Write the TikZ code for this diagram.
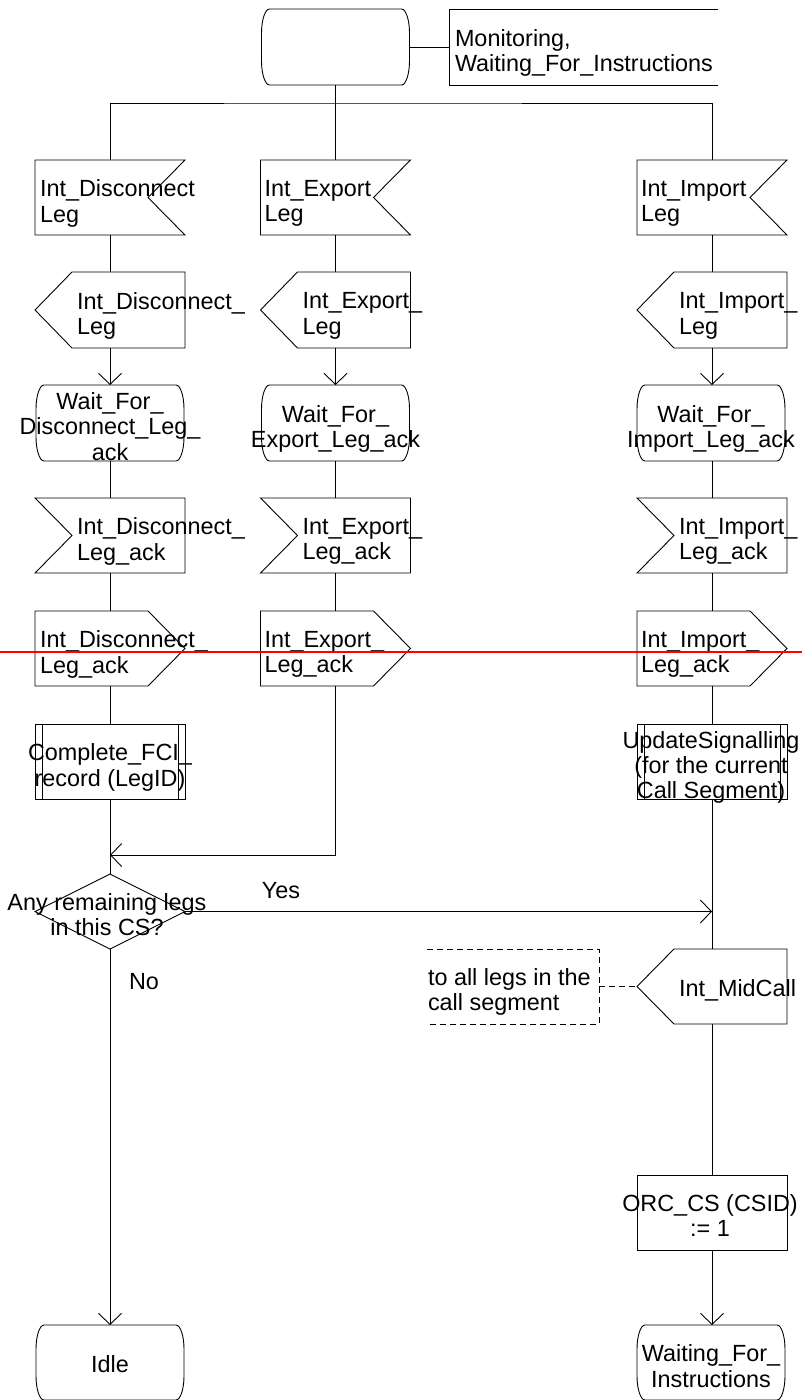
\documentclass[tikz,border=0pt]{standalone}
\usepackage{fontspec}
\setmainfont{Liberation Sans}
\usetikzlibrary{calc,arrows.meta}
\hyphenpenalty=10000
\exhyphenpenalty=10000

% SDL symbol outlines, drawn from the anchors of an invisible rectangle node
\newcommand\sdlInputR[1]{\draw[sdl] (#1.north west) -- (#1.north east) -- ($(#1.east)+(-37,0)$) -- (#1.south east) -- (#1.south west) -- cycle;}
\newcommand\sdlInputL[1]{\draw[sdl] (#1.north west) -- (#1.north east) -- (#1.south east) -- (#1.south west) -- ($(#1.west)+(37,0)$) -- cycle;}
\newcommand\sdlOutputL[1]{\draw[sdl] ($(#1.north west)+(37,0)$) -- (#1.north east) -- (#1.south east) -- ($(#1.south west)+(37,0)$) -- (#1.west) -- cycle;}
\newcommand\sdlOutputR[1]{\draw[sdl] (#1.north west) -- ($(#1.north east)+(-37,0)$) -- (#1.east) -- ($(#1.south east)+(-37,0)$) -- (#1.south west) -- cycle;}
\newcommand\sdlTask[1]{\draw[sdl] (#1.north west) rectangle (#1.south east);}
\newcommand\sdlProc[1]{\draw[sdl] (#1.north west) rectangle (#1.south east);
  \draw[sdl] ($(#1.north west)+(7,0)$) -- ($(#1.south west)+(7,0)$);
  \draw[sdl] ($(#1.north east)+(-7,0)$) -- ($(#1.south east)+(-7,0)$);}
\newcommand\sdlDecision[1]{\draw[sdl] (#1.north) -- (#1.east) -- (#1.south) -- (#1.west) -- cycle;}
\newcommand\sdlState[1]{\draw[sdl]
  ($(#1.north west)+(8,0)$) -- ($(#1.north east)+(-8,0)$)
  .. controls +(4.4,0) and +(0,-13) .. ($(#1.north east)+(0,24)$)
  -- ($(#1.south east)+(0,-24)$)
  .. controls +(0,13) and +(4.4,0) .. ($(#1.south east)+(-8,0)$)
  -- ($(#1.south west)+(8,0)$)
  .. controls +(-4.4,0) and +(0,13) .. ($(#1.south west)+(0,-24)$)
  -- ($(#1.north west)+(0,24)$)
  .. controls +(0,-13) and +(-4.4,0) .. ($(#1.north west)+(8,0)$) -- cycle;}

\begin{document}
\begin{tikzpicture}[x=1pt,y=-1pt,
  sdl/.style={draw=black,line width=0.9pt},
  sym/.style={draw=none,inner sep=0pt,outer sep=0pt,minimum width=150pt,minimum height=75pt},
  statebox/.style={sym,minimum width=148pt,minimum height=76pt},
  txt/.style={inner sep=0pt,outer sep=0pt,text depth=0pt,font=\fontsize{23.4}{25.2}\selectfont},
  ltxt/.style={txt,anchor=west,align=left},
  ctxt/.style={txt,align=center},
  flow/.style={draw=black,line width=0.9pt},
  arr/.style={flow,-{Straight Barb[length=11pt,width=23pt]}},
  note/.style={draw=black,line width=0.8pt,dash pattern=on 6pt off 4pt}
]
\useasboundingbox (0,0) rectangle (802,1400);

% ---- start and its text extension
\node[statebox] (start) at (335.5,47) {};
\node[sym,minimum width=269pt,minimum height=76pt] (ext) at (583.5,47) {};
\node[ltxt] (ext-t) at ($(ext.west)+(6,3.5)$) {Monitoring,\\Waiting\_For\_Instructions};
\coordinate (fork) at (335.5,103);

% ---- received signals
\node[sym] (in1L) at (110,197.5) {};
\node[sym] (in1M) at (335.5,197.5) {};
\node[sym] (in1R) at (712,197.5) {};
\node[ltxt] (in1L-t) at ($(in1L.west)+(5,3.5)$) {Int\_Disconnect\\Leg};
\node[ltxt] (in1M-t) at ($(in1M.west)+(4,3.5)$) {Int\_Export\\Leg};
\node[ltxt] (in1R-t) at ($(in1R.west)+(4,3.5)$) {Int\_Import\\Leg};

% ---- requests sent on
\node[sym,minimum height=76pt] (out1L) at (110,310) {};
\node[sym,minimum height=76pt] (out1M) at (335.5,310) {};
\node[sym,minimum height=76pt] (out1R) at (712,310) {};
\node[ltxt] (out1L-t) at ($(out1L.west)+(42,3.5)$) {Int\_Disconnect\_\\Leg};
\node[ltxt] (out1M-t) at ($(out1M.west)+(42,3.5)$) {Int\_Export\_\\Leg};
\node[ltxt] (out1R-t) at ($(out1R.west)+(42,3.5)$) {Int\_Import\_\\Leg};

% ---- waiting states
\node[statebox] (st1L) at (110,423) {};
\node[statebox] (st1M) at (335.5,423) {};
\node[statebox] (st1R) at (711,423) {};
\node[ctxt] (st1L-t) at ($(st1L.center)+(0,3.5)$) {Wait\_For\_\\Disconnect\_Leg\_\\ack};
\node[ctxt] (st1M-t) at ($(st1M.center)+(0,3.5)$) {Wait\_For\_\\Export\_Leg\_ack};
\node[ctxt] (st1R-t) at ($(st1R.center)+(0,3.5)$) {Wait\_For\_\\Import\_Leg\_ack};

% ---- acknowledgements received
\node[sym] (in2L) at (110,535.5) {};
\node[sym] (in2M) at (335.5,535.5) {};
\node[sym] (in2R) at (712,535.5) {};
\node[ltxt] (in2L-t) at ($(in2L.west)+(42,3.5)$) {Int\_Disconnect\_\\Leg\_ack};
\node[ltxt] (in2M-t) at ($(in2M.west)+(42,3.5)$) {Int\_Export\_\\Leg\_ack};
\node[ltxt] (in2R-t) at ($(in2R.west)+(42,3.5)$) {Int\_Import\_\\Leg\_ack};

% ---- acknowledgements sent on
\node[sym] (out2L) at (110,648.5) {};
\node[sym] (out2M) at (335.5,648.5) {};
\node[sym] (out2R) at (712,648.5) {};
\node[ltxt] (out2L-t) at ($(out2L.west)+(5,3.5)$) {Int\_Disconnect\_\\Leg\_ack};
\node[ltxt] (out2M-t) at ($(out2M.west)+(4,3.5)$) {Int\_Export\_\\Leg\_ack};
\node[ltxt] (out2R-t) at ($(out2R.west)+(4,3.5)$) {Int\_Import\_\\Leg\_ack};

% ---- procedure calls
\node[sym] (procL) at (110,761.5) {};
\node[sym] (procR) at (712,761.5) {};
\node[ctxt] (procL-t) at ($(procL.center)+(0,3.5)$) {Complete\_FCI\_\\record (LegID)};
\node[ctxt] (procR-t) at ($(procR.center)+(-1,3.5)$) {UpdateSignalling\\(for the current\\Call Segment)};

% ---- decision
\coordinate (join) at (110,855);
\node[sym] (dec) at (110,911.5) {};
\node[ctxt] (dec-t) at ($(dec.center)+(-3,2.75)$) {Any remaining legs\\in this CS?};
\node[txt] (yes) at (281,890) {Yes};
\node[txt] (no) at (144,981) {No};

% ---- mid call notification and comment
\node[sym] (mid) at (712,986.5) {};
\node[ltxt] (mid-t) at ($(mid.west)+(42,2)$) {Int\_MidCall};
\node[sym,minimum width=172pt] (cmt) at (513,986.5) {};
\node[ltxt] (cmt-t) at ($(cmt.west)+(1,3)$) {to all legs in the\\call segment};

% ---- task and final states
\node[sym] (task) at (712,1212.5) {};
\node[ctxt] (task-t) at ($(task.center)+(-2,3)$) {ORC\_CS (CSID)\\:= 1};
\node[statebox,minimum height=75pt] (idle) at (110,1362.5) {};
\node[ctxt] (idle-t) at ($(idle.center)+(0,2)$) {Idle};
\node[statebox,minimum height=75pt] (wfi) at (711,1362.5) {};
\node[ctxt] (wfi-t) at ($(wfi.center)+(0,3.5)$) {Waiting\_For\_\\Instructions};

% ---- outlines
\sdlState{start}
\draw[sdl] (ext.north east) -- (ext.north west) -- (ext.south west) -- (ext.south east);
\foreach \n in {in1L,in1M,in1R} {\sdlInputR{\n}}
\foreach \n in {out1L,out1M,out1R,mid} {\sdlOutputL{\n}}
\foreach \n in {st1L,st1M,st1R,idle,wfi} {\sdlState{\n}}
\foreach \n in {in2L,in2M,in2R} {\sdlInputL{\n}}
\foreach \n in {out2L,out2M,out2R} {\sdlOutputR{\n}}
\sdlProc{procL}
\sdlProc{procR}
\sdlDecision{dec}
\sdlTask{task}
\draw[note] (cmt.north west) -- (cmt.north east) -- (cmt.south east) -- (cmt.south west);

% ---- connectors
\draw[flow] (start.east) -- (ext.west);
\draw[flow] (start.south) -- (in1M.north);
\draw[flow] (in1L.north) |- (fork) -| (in1R.north);
\foreach \c in {L,M,R} {
  \draw[flow] (in1\c.south) -- (out1\c.north);
  \draw[arr] (out1\c.south) -- (st1\c.north -| out1\c.south);
  \draw[flow] (st1\c.south -| in2\c.north) -- (in2\c.north);
  \draw[flow] (in2\c.south) -- (out2\c.north);
}
\draw[flow] (out2L.south) -- (procL.north);
\draw[flow] (out2R.south) -- (procR.north);
\draw[arr] (out2M.south) |- (join);
\draw[flow] (procL.south) -- (dec.north);
\draw[arr] (dec.east) -- (dec.east -| procR.south);
\draw[flow] (procR.south) -- (mid.north);
\draw[note] (cmt.east) -- (mid.west);
\draw[flow] (mid.south) -- (task.north);
\draw[arr] (task.south) -- (wfi.north -| task.south);
\draw[arr] (dec.south) -- (idle.north);

% ---- red rule across the page
\draw[red,line width=2pt] (0,652) -- (802,652);
\end{tikzpicture}
\end{document}
